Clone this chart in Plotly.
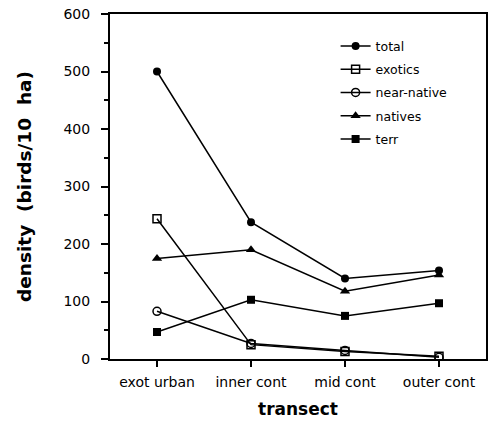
import plotly.graph_objects as go

categories = ["exot urban", "inner cont", "mid cont", "outer cont"]
total = [500, 238, 140, 154]
exotics = [244, 25, 13, 5]
near_native = [83, 27, 15, 3]
natives = [175, 190, 118, 146]
terr = [47, 103, 75, 97]

series = [
    ("total", total, dict(symbol="circle", size=8, color="black")),
    ("exotics", exotics, dict(symbol="square-open", size=8, color="black", line=dict(width=1.5))),
    ("near-native", near_native, dict(symbol="circle-open", size=8, color="black", line=dict(width=1.5))),
    ("natives", natives, dict(symbol="triangle-up", size=9, color="black")),
    ("terr", terr, dict(symbol="square", size=8, color="black")),
]

FONT = "DejaVu Sans, Liberation Sans, Arial, sans-serif"

fig = go.Figure()
for i, (name, vals, mk) in enumerate(series):
    fig.add_trace(go.Scatter(
        x=list(range(len(categories))), y=vals, name=name, mode="lines+markers",
        line=dict(color="black", width=1.5), marker=mk, legendgroup=name,
    ))

fig.update_layout(
    width=488, height=432,
    margin=dict(l=110, r=2, t=14, b=73, autoexpand=False),
    paper_bgcolor="white", plot_bgcolor="white",
    font=dict(family=FONT, color="black", size=14),
    legend=dict(x=0.60, y=0.95, xanchor="left", yanchor="top", bgcolor="rgba(0,0,0,0)",
                font=dict(size=12.5), traceorder="grouped", tracegroupgap=4),
    showlegend=True,
)
fig.update_xaxes(
    range=[-0.5, 3.5], tickmode="array", tickvals=list(range(len(categories))), ticktext=categories,
    showgrid=False, zeroline=False, showline=True, linecolor="black", linewidth=2, mirror=True,
    ticks="outside", ticklen=6, tickwidth=1.5, tickcolor="black", tickfont=dict(size=14),
    ticklabelstandoff=3, automargin=False,
    title=dict(text="<b>transect</b>", font=dict(size=17), standoff=14),
)
fig.update_yaxes(
    range=[0, 600], tickmode="linear", tick0=0, dtick=100,
    showgrid=False, zeroline=False, showline=True, linecolor="black", linewidth=2, mirror=True,
    ticks="outside", ticklen=7, tickwidth=1.5, tickcolor="black", tickfont=dict(size=14),
    ticklabelstandoff=8, automargin=False,
    minor=dict(ticks="outside", ticklen=4, dtick=50, tickcolor="black", tickwidth=1.5, showgrid=False),
    title=dict(text="<b>density  (birds/10  ha)</b>", font=dict(size=18.5), standoff=27),
)

fig.write_html("out.html", config={"displayModeBar": False},
               post_script="document.body.style.margin='0';")
